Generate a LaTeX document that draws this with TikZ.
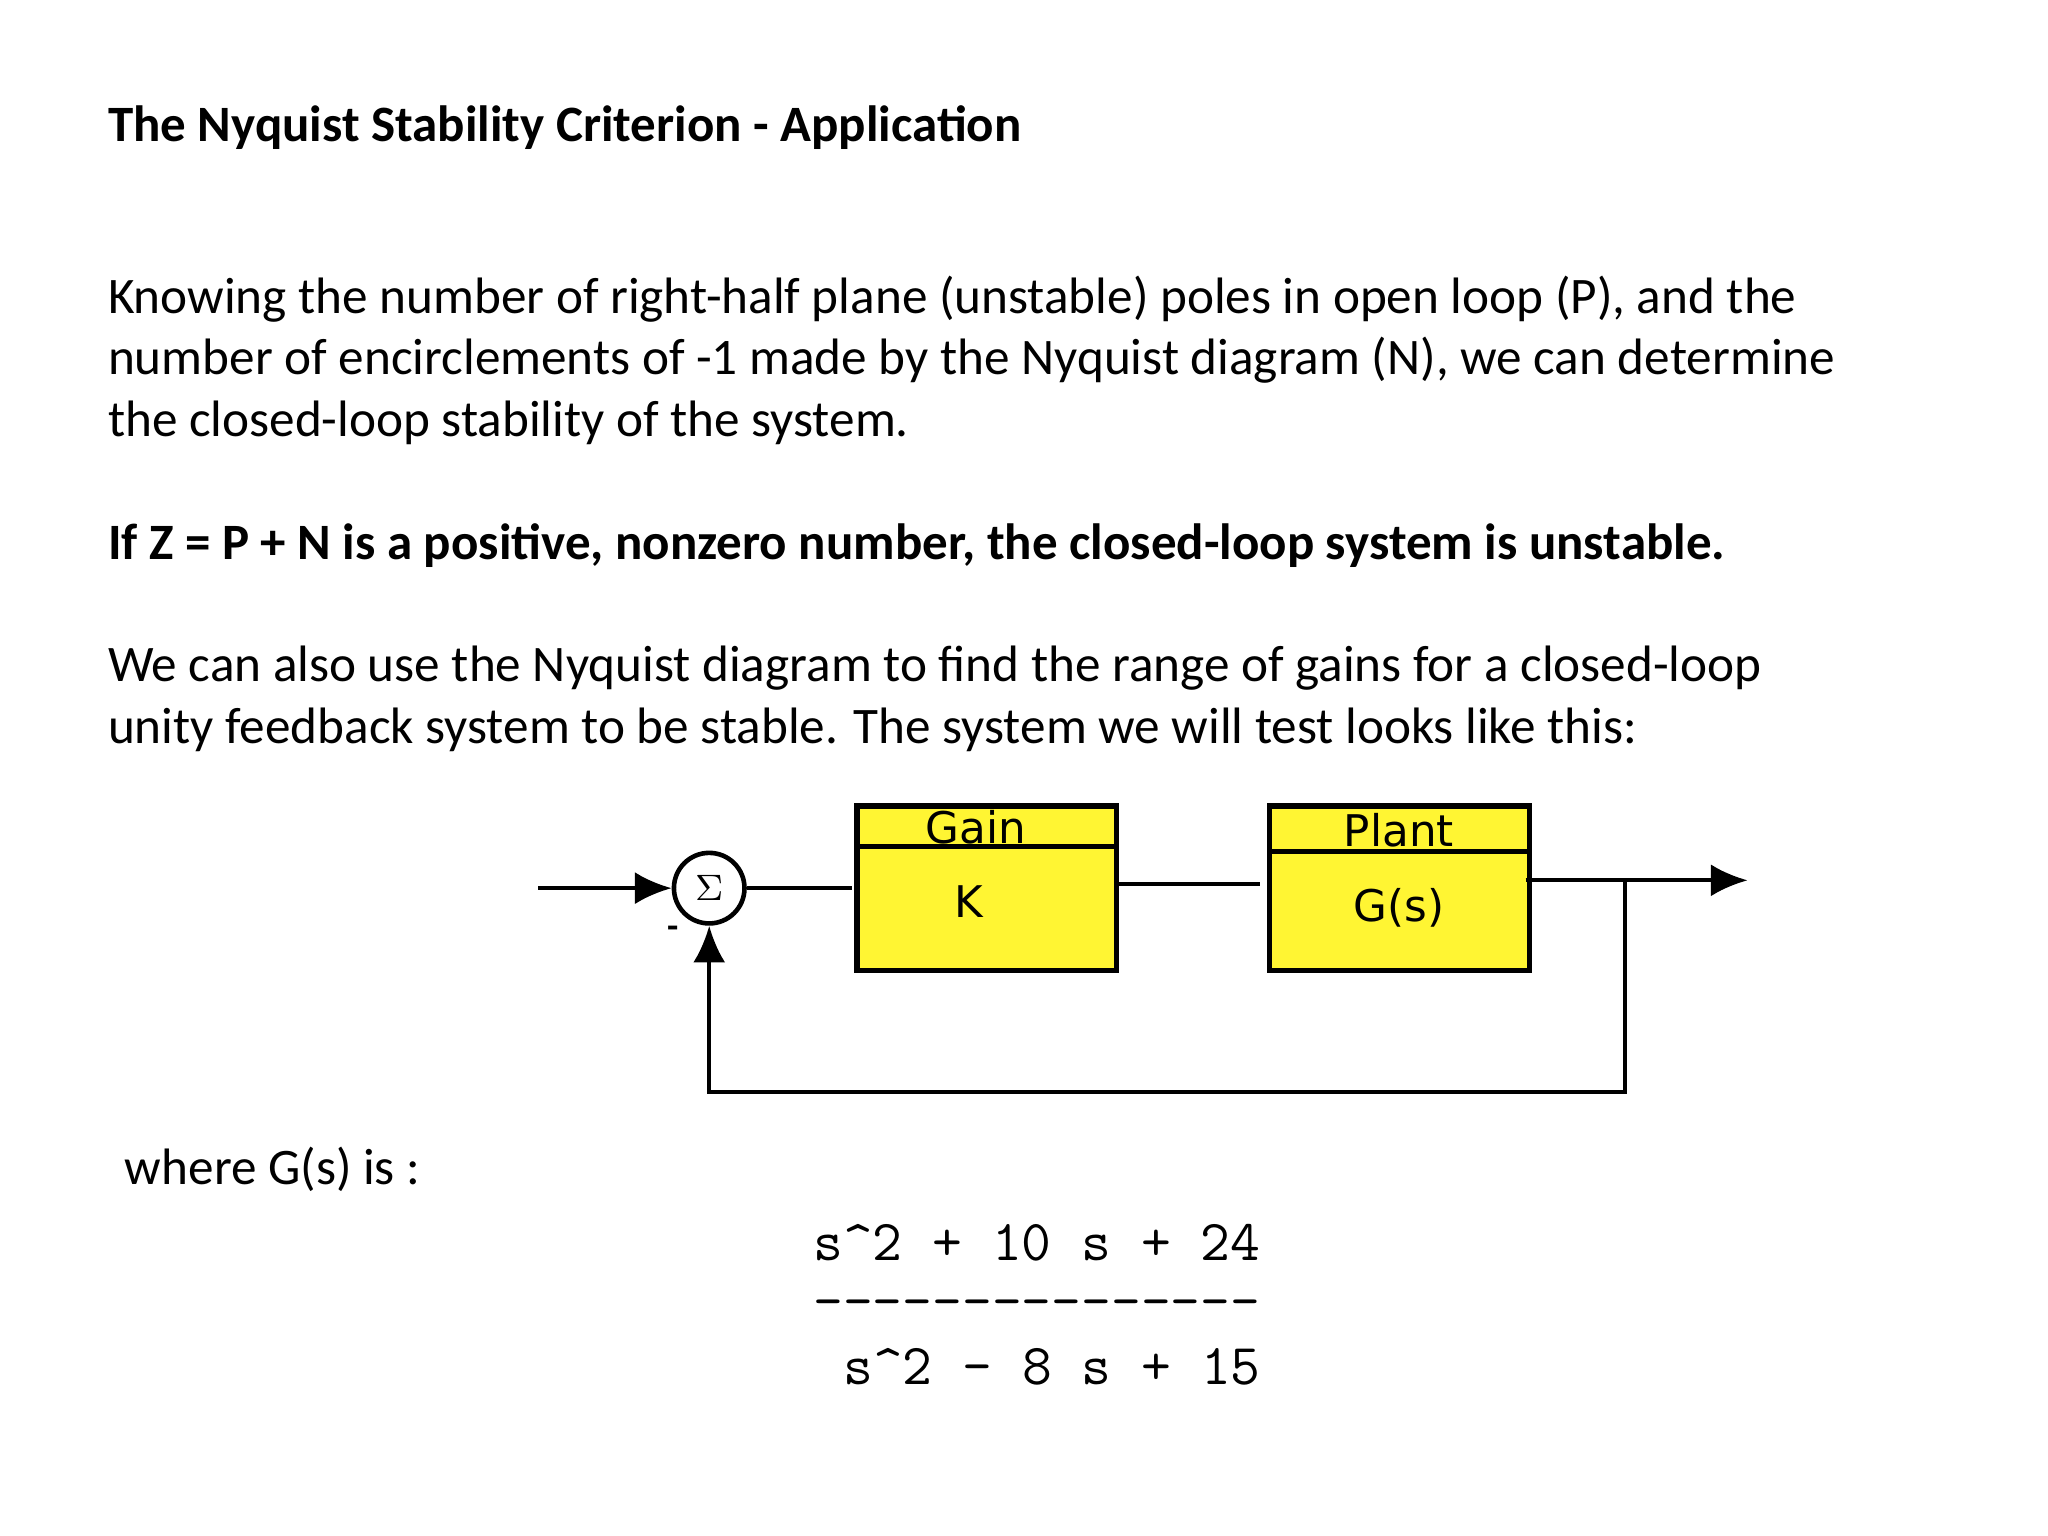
\documentclass[tikz,border=0pt]{standalone}
\usepackage{fontspec}
\setmainfont{Carlito}
\newfontfamily\boxfont{DejaVu Sans}
\usetikzlibrary{arrows.meta}
\begin{document}
\begin{tikzpicture}[x=0.01cm,y=-0.01cm,
  txt/.style={anchor=base west,inner sep=0,font=\fontsize{11.15pt}{13.4pt}\selectfont},
  blk/.style={draw,line width=1.2pt,fill=yellow!80!white},
  ln/.style={line width=0.9pt},
  arr/.style={ln,-{Latex[length=8pt,width=7pt]}},
  mono/.style={anchor=base west,inner sep=0,font=\ttfamily\fontsize{12.6pt}{14pt}\selectfont}]
\useasboundingbox (0,0) rectangle (1568,1176);
\node[txt,font=\bfseries\fontsize{11.1pt}{13pt}\selectfont] (title) at (82,108) {The Nyquist Stability Criterion - Application};
\node[txt] (l1) at (82,240) {Knowing the number of right-half plane (unstable) poles in open loop (P), and the};
\node[txt] (l2) at (82,287) {number of encirclements of -1 made by the Nyquist diagram (N), we can determine};
\node[txt] (l3) at (82,334) {the closed-loop stability of the system.};
\node[txt,font=\bfseries\fontsize{11.1pt}{13.4pt}\selectfont] (l4) at (82,428) {If Z = P + N is a positive, nonzero number, the closed-loop system is unstable.};
\node[txt] (l5) at (82,522) {We can also use the Nyquist diagram to find the range of gains for a closed-loop};
\node[txt] (l6) at (82,569) {unity feedback system to be stable. The system we will test looks like this:};
\node[txt] (l7) at (95,907) {where G(s) is :};
\node[mono] (num) at (622,965) {s\textasciicircum2 + 10 s + 24};
\node[mono] (bar) at (622,1010) {---------------};
\node[mono] (den) at (645,1060) {s\textasciicircum2 - 8 s + 15};
\draw[blk] (656,617) rectangle (855,743);
\draw[line width=1.2pt] (656,648) -- (855,648);
\draw[blk] (972,617) rectangle (1171,743);
\draw[line width=1.2pt] (972,652) -- (1171,652);
\node[font=\boxfont\fontsize{9.5pt}{10pt}\selectfont] (gt) at (747,633) {Gain};
\node[font=\boxfont\fontsize{9.5pt}{10pt}\selectfont] (k) at (742,690) {K};
\node[font=\boxfont\fontsize{9.5pt}{10pt}\selectfont] (pt) at (1071,636) {Plant};
\node[font=\boxfont\fontsize{9.5pt}{10pt}\selectfont] (gs) at (1071,695) {G(s)};
\node[draw,circle,line width=1pt,minimum size=0.54cm,inner sep=0,font=\fontsize{8pt}{9pt}\selectfont] (sum) at (543,680) {$\Sigma$};
\coordinate (in) at (412,680);
\coordinate (out) at (1338,674);
\coordinate (br) at (1244,674);
\coordinate (bl) at (1244,836);
\coordinate (fl) at (543,836);
\draw[arr] (in) -- (sum.west);
\draw[ln] (sum.east) -- (652,680);
\draw[ln] (855,677) -- (965,677);
\draw[arr] (1168,674) -- (out);
\draw[arr] (br) -- (bl) -- (fl) -- (sum.south);
\node[font=\bfseries\fontsize{8pt}{9pt}\selectfont] (minus) at (515,714) {-};
\end{tikzpicture}
\end{document}
